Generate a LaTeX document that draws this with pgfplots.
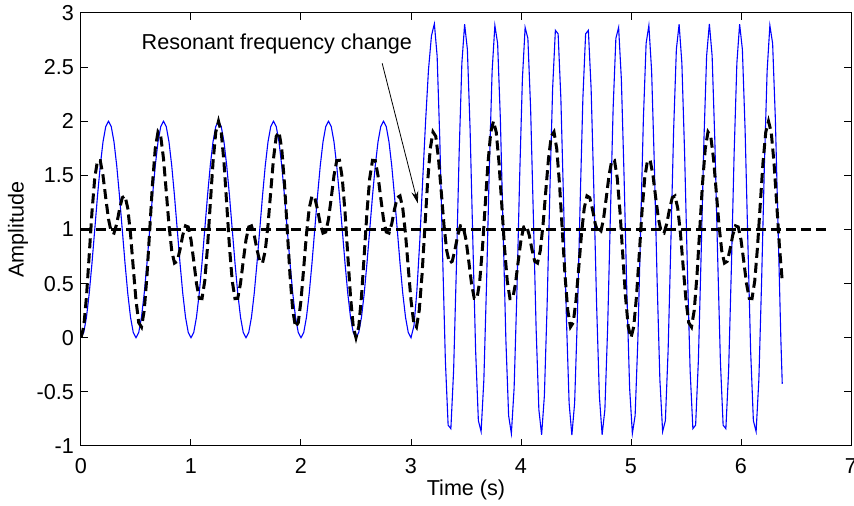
\documentclass[border=0pt]{standalone}
\usepackage{fontspec}
\setmainfont{Liberation Sans}
\usepackage{pgfplots}
\pgfplotsset{compat=1.18}
\usetikzlibrary{arrows.meta}
\begin{document}
\begin{tikzpicture}[font=\fontsize{10.8}{13}\selectfont]
\begin{axis}[name=ax, scale only axis, width=385pt, height=216.5pt,
  xmin=0, xmax=7, ymin=-1, ymax=3,
  xtick={0,1,2,3,4,5,6,7}, ytick={-1,-0.5,0,0.5,1,1.5,2,2.5,3},
  tick align=inside, major tick length=3.3pt,
  axis line style={line width=0.5pt},
  every tick/.style={black, line width=0.5pt},
  /pgf/number format/assume math mode=true,
  xticklabel style={yshift=-2.9pt},
  xlabel={Time (s)}, ylabel={Amplitude},
  xlabel style={at={(axis description cs:0.5,-0.1016)}, anchor=center},
  ylabel style={at={(axis description cs:-0.0818,0.5)}, anchor=center, rotate=0},
  clip=true]
% input signal (blue)
\addplot[color=blue, line width=0.55pt] coordinates {
(0,0) (0.025,0.0489) (0.05,0.1910) (0.075,0.4122) (0.1,0.6910) (0.125,1) (0.15,1.3090) (0.175,1.5878) (0.2,1.8090) (0.225,1.9511) (0.25,2) (0.275,1.9511) (0.3,1.8090) (0.325,1.5878) (0.35,1.3090) (0.375,1) (0.4,0.6910) (0.425,0.4122) (0.45,0.1910) (0.475,0.0489)
(0.5,0) (0.525,0.0489) (0.55,0.1910) (0.575,0.4122) (0.6,0.6910) (0.625,1) (0.65,1.3090) (0.675,1.5878) (0.7,1.8090) (0.725,1.9511) (0.75,2) (0.775,1.9511) (0.8,1.8090) (0.825,1.5878) (0.85,1.3090) (0.875,1) (0.9,0.6910) (0.925,0.4122) (0.95,0.1910) (0.975,0.0489)
(1,0) (1.025,0.0489) (1.05,0.1910) (1.075,0.4122) (1.1,0.6910) (1.125,1) (1.15,1.3090) (1.175,1.5878) (1.2,1.8090) (1.225,1.9511) (1.25,2) (1.275,1.9511) (1.3,1.8090) (1.325,1.5878) (1.35,1.3090) (1.375,1) (1.4,0.6910) (1.425,0.4122) (1.45,0.1910) (1.475,0.0489)
(1.5,0) (1.525,0.0489) (1.55,0.1910) (1.575,0.4122) (1.6,0.6910) (1.625,1) (1.65,1.3090) (1.675,1.5878) (1.7,1.8090) (1.725,1.9511) (1.75,2) (1.775,1.9511) (1.8,1.8090) (1.825,1.5878) (1.85,1.3090) (1.875,1) (1.9,0.6910) (1.925,0.4122) (1.95,0.1910) (1.975,0.0489)
(2,0) (2.025,0.0489) (2.05,0.1910) (2.075,0.4122) (2.1,0.6910) (2.125,1) (2.15,1.3090) (2.175,1.5878) (2.2,1.8090) (2.225,1.9511) (2.25,2) (2.275,1.9511) (2.3,1.8090) (2.325,1.5878) (2.35,1.3090) (2.375,1) (2.4,0.6910) (2.425,0.4122) (2.45,0.1910) (2.475,0.0489)
(2.5,0) (2.525,0.0489) (2.55,0.1910) (2.575,0.4122) (2.6,0.6910) (2.625,1) (2.65,1.3090) (2.675,1.5878) (2.7,1.8090) (2.725,1.9511) (2.75,2) (2.775,1.9511) (2.8,1.8090) (2.825,1.5878) (2.85,1.3090) (2.875,1) (2.9,0.6910) (2.925,0.4122) (2.95,0.1910) (2.975,0.0489)
(3,0) (3.027,0.1104) (3.053,0.4247) (3.080,0.8951) (3.106,1.45) (3.133,2.0049) (3.159,2.4753) (3.186,2.7896)
(3.2125,2.9) (3.2375,2.6042) (3.2625,1.8090) (3.2875,0.7619) (3.3125,-0.2111) (3.3375,-0.8071) (3.3625,-0.8403) (3.3875,-0.3007) (3.4125,0.6439) (3.4375,1.6994)
(3.4625,2.5371) (3.4875,2.8962) (3.5125,2.6650) (3.5375,1.9154) (3.5625,0.8807) (3.5875,-0.1168) (3.6125,-0.7666) (3.6375,-0.8664) (3.6625,-0.3851) (3.6875,0.5275)
(3.7125,1.5871) (3.7375,2.4640) (3.7625,2.8850) (3.7875,2.7191) (3.8125,2.0180) (3.8375,1.0) (3.8625,-0.0180) (3.8875,-0.7191) (3.9125,-0.8850) (3.9375,-0.4640)
(3.9625,0.4129) (3.9875,1.4725) (4.0125,2.3851) (4.0375,2.8664) (4.0625,2.7666) (4.0875,2.1168) (4.1125,1.1193) (4.1375,0.0846) (4.1625,-0.6650) (4.1875,-0.8962)
(4.2125,-0.5371) (4.2375,0.3006) (4.2625,1.3561) (4.2875,2.3007) (4.3125,2.8403) (4.3375,2.8071) (4.3625,2.2111) (4.3875,1.2381) (4.4125,0.1910) (4.4375,-0.6042)
(4.4625,-0.9) (4.4875,-0.6042) (4.5125,0.1910) (4.5375,1.2381) (4.5625,2.2111) (4.5875,2.8071) (4.6125,2.8403) (4.6375,2.3007) (4.6625,1.3561) (4.6875,0.3006)
(4.7125,-0.5371) (4.7375,-0.8962) (4.7625,-0.6650) (4.7875,0.0846) (4.8125,1.1193) (4.8375,2.1168) (4.8625,2.7666) (4.8875,2.8664) (4.9125,2.3851) (4.9375,1.4725)
(4.9625,0.4129) (4.9875,-0.4640) (5.0125,-0.8850) (5.0375,-0.7191) (5.0625,-0.0180) (5.0875,1.0) (5.1125,2.0180) (5.1375,2.7191) (5.1625,2.8850) (5.1875,2.4640)
(5.2125,1.5871) (5.2375,0.5275) (5.2625,-0.3851) (5.2875,-0.8664) (5.3125,-0.7666) (5.3375,-0.1168) (5.3625,0.8807) (5.3875,1.9154) (5.4125,2.6650) (5.4375,2.8962)
(5.4625,2.5371) (5.4875,1.6994) (5.5125,0.6439) (5.5375,-0.3007) (5.5625,-0.8403) (5.5875,-0.8071) (5.6125,-0.2111) (5.6375,0.7619) (5.6625,1.8090) (5.6875,2.6042)
(5.7125,2.9) (5.7375,2.6042) (5.7625,1.8090) (5.7875,0.7619) (5.8125,-0.2111) (5.8375,-0.8071) (5.8625,-0.8403) (5.8875,-0.3007) (5.9125,0.6439) (5.9375,1.6994)
(5.9625,2.5371) (5.9875,2.8962) (6.0125,2.6650) (6.0375,1.9154) (6.0625,0.8807) (6.0875,-0.1168) (6.1125,-0.7666) (6.1375,-0.8664) (6.1625,-0.3851) (6.1875,0.5275)
(6.2125,1.5871) (6.2375,2.4640) (6.2625,2.8850) (6.2875,2.7191) (6.3125,2.0180) (6.3375,1.0) (6.3625,-0.0180) (6.375,-0.425)
};
% reference level
\addplot[black, line width=1.5pt, dash pattern=on 5pt off 2.5pt] coordinates {(0,1) (6.775,1)};
% response (dashed)
\addplot[black, line width=1.5pt, dash pattern=on 5pt off 2.5pt] coordinates {
(0,0) (0.025,0.1023) (0.05,0.3826) (0.075,0.7688) (0.1,1.1642) (0.125,1.4756) (0.15,1.6388) (0.175,1.6362) (0.2,1.4982) (0.225,1.2915)
(0.25,1.0955) (0.275,0.9766) (0.3,0.9664) (0.325,1.0530) (0.35,1.1859) (0.375,1.2939) (0.4,1.3104) (0.425,1.1973) (0.45,0.9600) (0.475,0.6488)
(0.5,0.3455) (0.525,0.1392) (0.55,0.0995) (0.575,0.2537) (0.6,0.5776) (0.625,1.0) (0.65,1.4224) (0.675,1.7463) (0.7,1.9006) (0.725,1.8608)
(0.75,1.6545) (0.775,1.3512) (0.8,1.0400) (0.825,0.8028) (0.85,0.6896) (0.875,0.7061) (0.9,0.8141) (0.925,0.9470) (0.95,1.0337) (0.975,1.0235)
(1,0.9045) (1.025,0.7085) (1.05,0.5018) (1.075,0.3638) (1.1,0.3612) (1.125,0.5245) (1.15,0.8358) (1.175,1.2313) (1.2,1.6174) (1.225,1.8977)
(1.25,2.0) (1.275,1.8977) (1.3,1.6174) (1.325,1.2313) (1.35,0.8358) (1.375,0.5245) (1.4,0.3612) (1.425,0.3638) (1.45,0.5018) (1.475,0.7085)
(1.5,0.9045) (1.525,1.0235) (1.55,1.0337) (1.575,0.9470) (1.6,0.8141) (1.625,0.7061) (1.65,0.6896) (1.675,0.8028) (1.7,1.0400) (1.725,1.3512)
(1.75,1.6545) (1.775,1.8608) (1.8,1.9006) (1.825,1.7463) (1.85,1.4224) (1.875,1.0) (1.9,0.5776) (1.925,0.2537) (1.95,0.0995) (1.975,0.1392)
(2,0.3455) (2.025,0.6488) (2.05,0.9600) (2.075,1.1973) (2.1,1.3104) (2.125,1.2939) (2.15,1.1859) (2.175,1.0530) (2.2,0.9664) (2.225,0.9766)
(2.25,1.0955) (2.275,1.2915) (2.3,1.4982) (2.325,1.6362) (2.35,1.6388) (2.375,1.4756) (2.4,1.1642) (2.425,0.7688) (2.45,0.3826) (2.475,0.1023)
(2.5,0) (2.525,0.1023) (2.55,0.3826) (2.575,0.7688) (2.6,1.1642) (2.625,1.4756) (2.65,1.6388) (2.675,1.6362) (2.7,1.4982) (2.725,1.2915)
(2.75,1.0955) (2.775,0.9766) (2.8,0.9664) (2.825,1.0530) (2.85,1.1859) (2.875,1.2939) (2.9,1.3104) (2.925,1.1973) (2.95,0.9600) (2.975,0.6488)
(3,0.3455) (3.025,0.1392) (3.05,0.0995) (3.075,0.2537) (3.1,0.5776) (3.125,1.0) (3.15,1.4224) (3.175,1.7463) (3.2,1.9006) (3.225,1.8608)
(3.25,1.6545) (3.275,1.3512) (3.3,1.0400) (3.325,0.8028) (3.35,0.6896) (3.375,0.7061) (3.4,0.8141) (3.425,0.9470) (3.45,1.0337) (3.475,1.0235)
(3.5,0.9045) (3.525,0.7085) (3.55,0.5018) (3.575,0.3638) (3.6,0.3612) (3.625,0.5245) (3.65,0.8358) (3.675,1.2313) (3.7,1.6174) (3.725,1.8977)
(3.75,2.0) (3.775,1.8977) (3.8,1.6174) (3.825,1.2313) (3.85,0.8358) (3.875,0.5245) (3.9,0.3612) (3.925,0.3638) (3.95,0.5018) (3.975,0.7085)
(4,0.9045) (4.025,1.0235) (4.05,1.0337) (4.075,0.9470) (4.1,0.8141) (4.125,0.7061) (4.15,0.6896) (4.175,0.8028) (4.2,1.0400) (4.225,1.3512)
(4.25,1.6545) (4.275,1.8608) (4.3,1.9006) (4.325,1.7463) (4.35,1.4224) (4.375,1.0) (4.4,0.5776) (4.425,0.2537) (4.45,0.0995) (4.475,0.1392)
(4.5,0.3455) (4.525,0.6488) (4.55,0.9600) (4.575,1.1973) (4.6,1.3104) (4.625,1.2939) (4.65,1.1859) (4.675,1.0530) (4.7,0.9664) (4.725,0.9766)
(4.75,1.0955) (4.775,1.2915) (4.8,1.4982) (4.825,1.6362) (4.85,1.6388) (4.875,1.4756) (4.9,1.1642) (4.925,0.7688) (4.95,0.3826) (4.975,0.1023)
(5,0) (5.025,0.1023) (5.05,0.3826) (5.075,0.7688) (5.1,1.1642) (5.125,1.4756) (5.15,1.6388) (5.175,1.6362) (5.2,1.4982) (5.225,1.2915)
(5.25,1.0955) (5.275,0.9766) (5.3,0.9664) (5.325,1.0530) (5.35,1.1859) (5.375,1.2939) (5.4,1.3104) (5.425,1.1973) (5.45,0.9600) (5.475,0.6488)
(5.5,0.3455) (5.525,0.1392) (5.55,0.0995) (5.575,0.2537) (5.6,0.5776) (5.625,1.0) (5.65,1.4224) (5.675,1.7463) (5.7,1.9006) (5.725,1.8608)
(5.75,1.6545) (5.775,1.3512) (5.8,1.0400) (5.825,0.8028) (5.85,0.6896) (5.875,0.7061) (5.9,0.8141) (5.925,0.9470) (5.95,1.0337) (5.975,1.0235)
(6,0.9045) (6.025,0.7085) (6.05,0.5018) (6.075,0.3638) (6.1,0.3612) (6.125,0.5245) (6.15,0.8358) (6.175,1.2313) (6.2,1.6174) (6.225,1.8977)
(6.25,2.0) (6.275,1.8977) (6.3,1.6174) (6.325,1.2313) (6.35,0.8358) (6.375,0.5245)
};
\node at (axis cs:1.78,2.71) {Resonant frequency change};
\draw[-{Stealth[length=6pt,width=3.5pt]}, line width=0.4pt] (axis cs:2.738,2.535) -- (axis cs:3.062,1.242);
\end{axis}
\pgfresetboundingbox
\path[use as bounding box] ([xshift=-40.5pt,yshift=-30pt]ax.south west) rectangle ([xshift=1.5pt,yshift=6.5pt]ax.north east);
\end{tikzpicture}
\end{document}
